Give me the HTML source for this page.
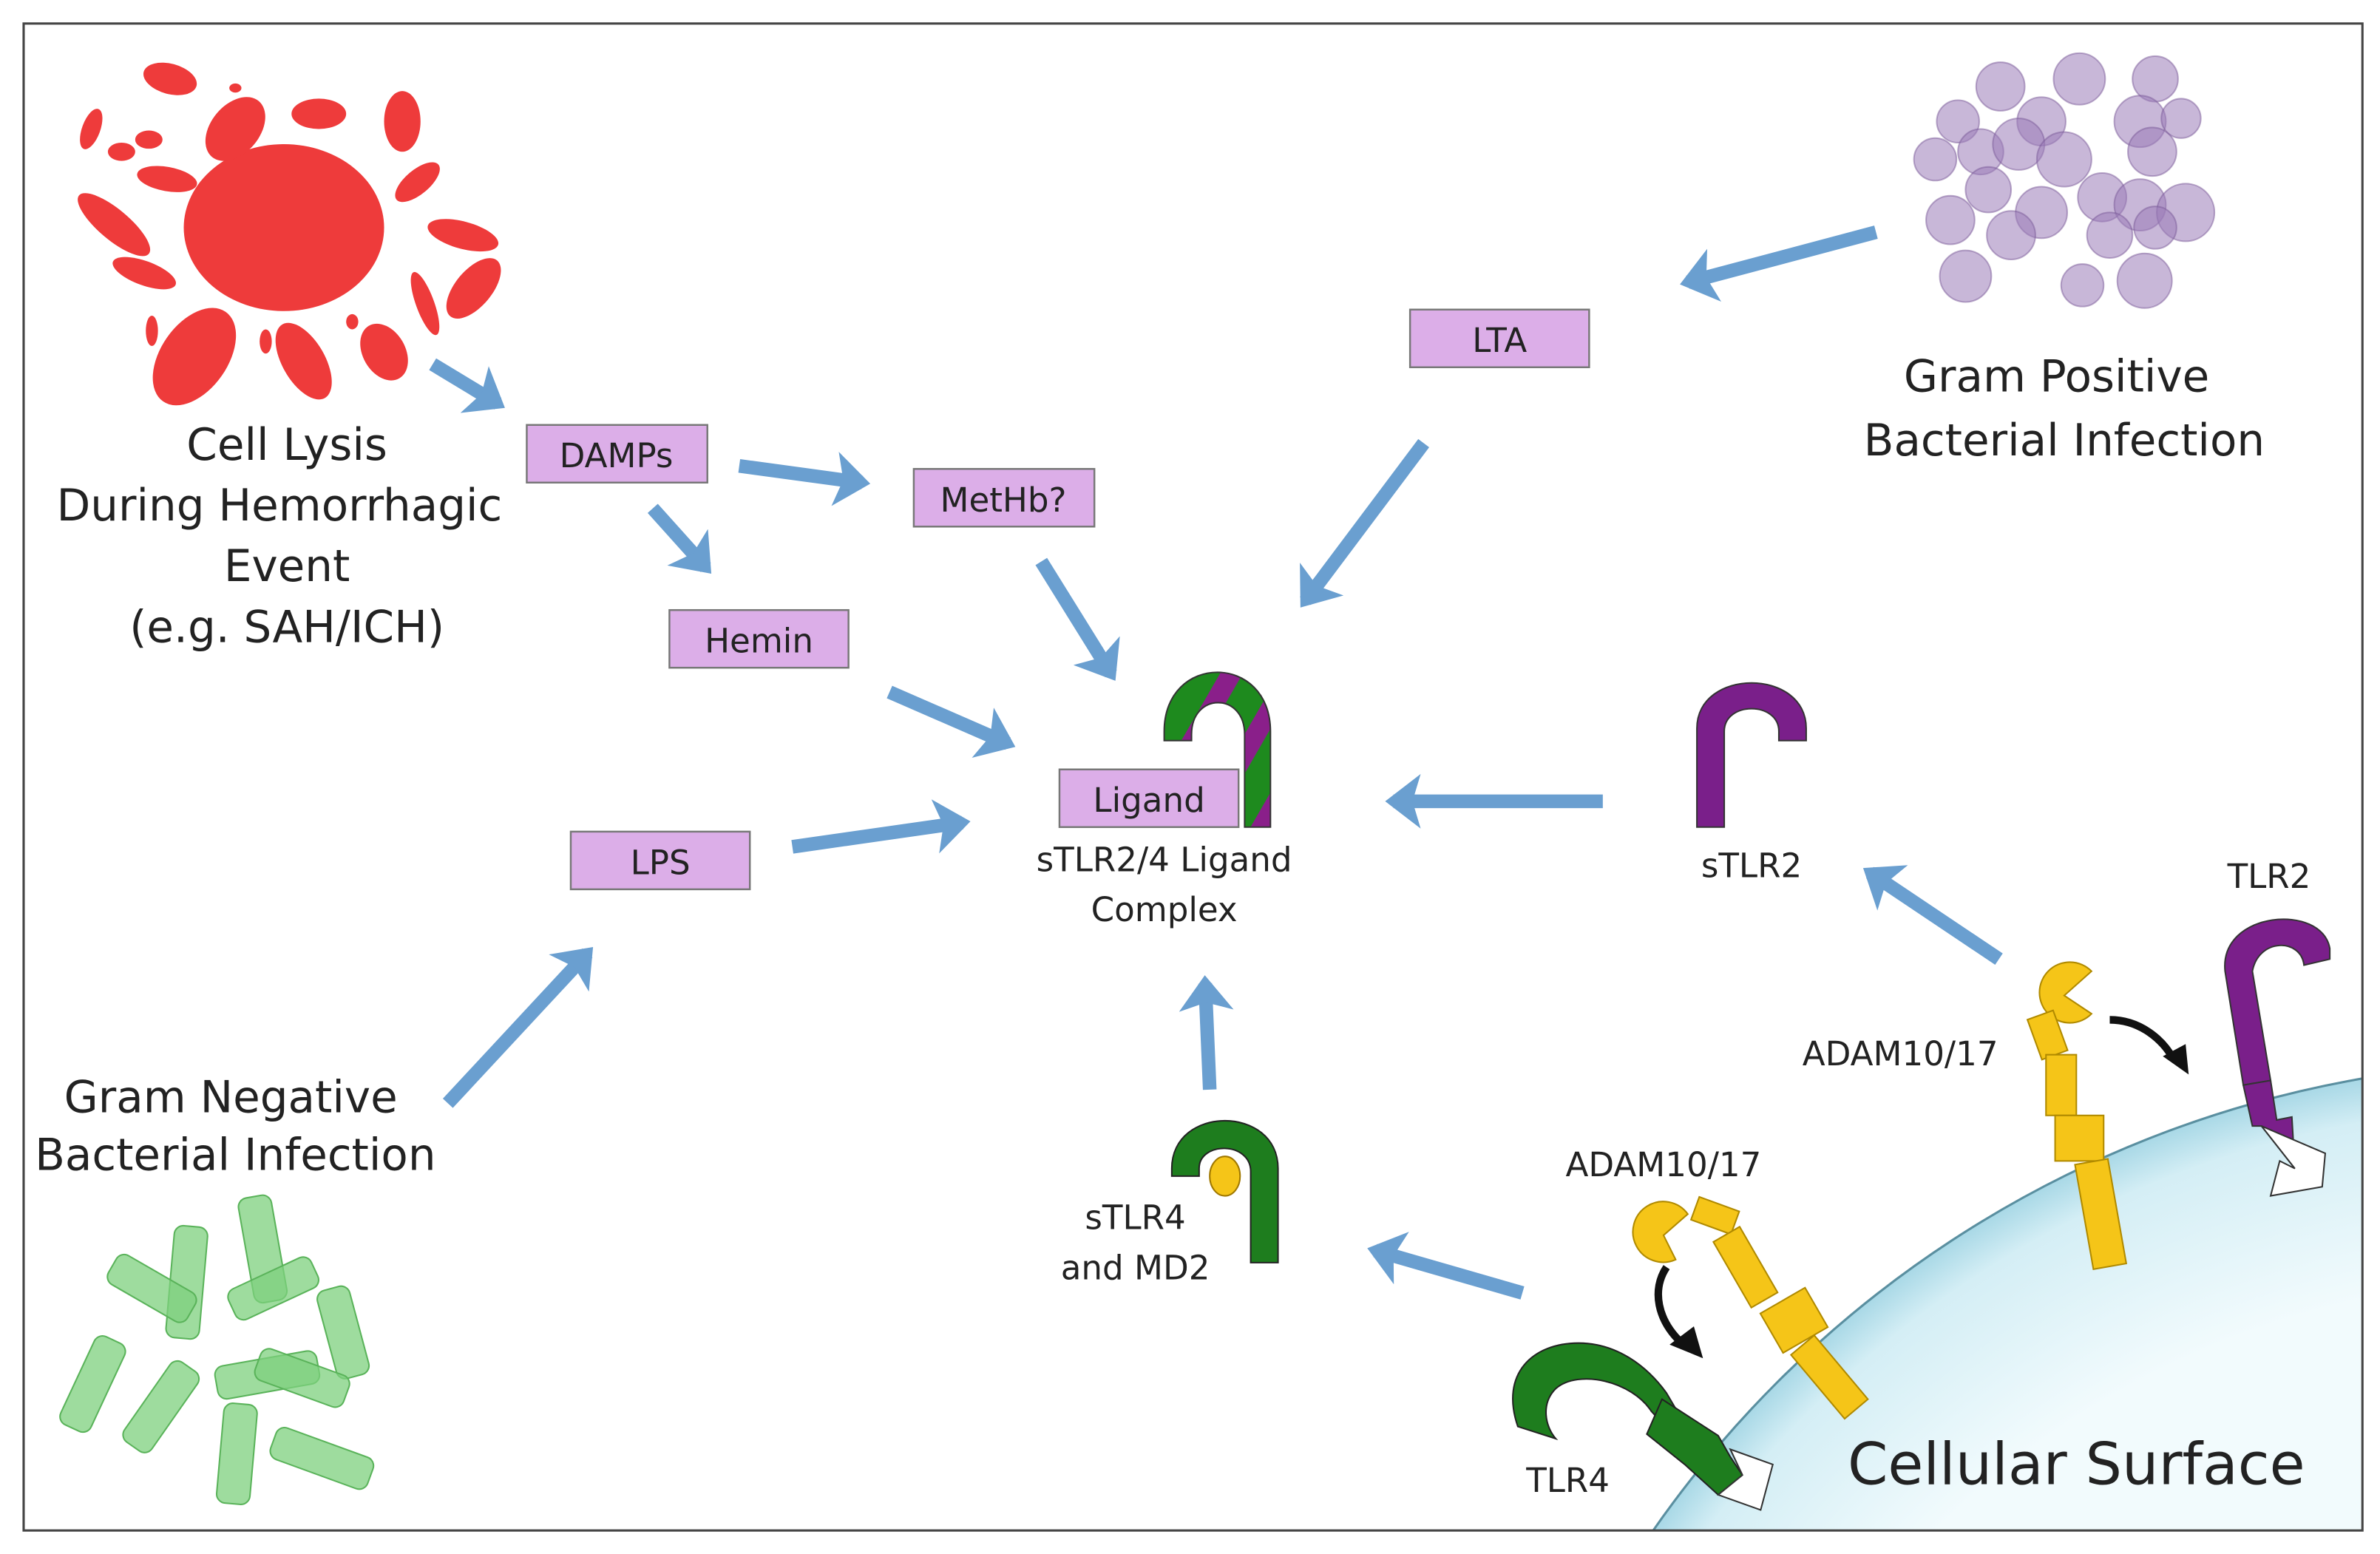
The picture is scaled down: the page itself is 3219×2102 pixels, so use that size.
<!DOCTYPE html>
<html><head><meta charset="utf-8">
<style>
html,body{margin:0;padding:0;background:#fff;width:3219px;height:2102px;overflow:hidden;}
svg{display:block;overflow:hidden;position:absolute;left:0;top:0;}
text{font-family:"DejaVu Sans","Liberation Sans",sans-serif;fill:#222;}
</style></head>
<body>
<svg width="3219" height="2102" viewBox="0 0 1568 1024" xmlns="http://www.w3.org/2000/svg">
<defs>
<marker id="ah" markerWidth="4" markerHeight="4" refX="2" refY="2" orient="auto" markerUnits="strokeWidth">
<path d="M0,0 L2.6,2 L0,4 L0.6,2 Z" fill="#6a9fd0"/>
</marker>
<radialGradient id="cg" cx="1680" cy="1420" r="720" gradientUnits="userSpaceOnUse">
<stop offset="0.8" stop-color="#f2fbfd"/><stop offset="0.96" stop-color="#d4eef5"/><stop offset="1" stop-color="#a8d8e6"/>
</radialGradient>
<pattern id="stripes" patternUnits="userSpaceOnUse" width="34" height="34" patternTransform="rotate(30)">
<rect width="34" height="34" fill="#1e8a1e"/><rect width="13" height="34" fill="#8a1f8a"/>
</pattern>
<clipPath id="frame"><rect x="0" y="0" width="1557" height="1009"/></clipPath>
</defs>
<rect x="0" y="0" width="1568" height="1024" fill="#fff"/>
<g clip-path="url(#frame)">
<circle cx="1680" cy="1420" r="720" fill="url(#cg)" stroke="#5a8fa0" stroke-width="1.5"/>
</g>
<rect x="15.5" y="15.5" width="1541" height="993" fill="none" stroke="#444" stroke-width="1.5"/>

<g fill="#ee3b3b">
<ellipse cx="187" cy="150" rx="66" ry="55"/>
<ellipse cx="112" cy="52" rx="18" ry="10" transform="rotate(15 112 52)"/>
<ellipse cx="155" cy="85" rx="16" ry="24" transform="rotate(40 155 85)"/>
<ellipse cx="210" cy="75" rx="18" ry="10"/>
<ellipse cx="265" cy="80" rx="12" ry="20"/>
<ellipse cx="275" cy="120" rx="8" ry="18" transform="rotate(50 275 120)"/>
<ellipse cx="305" cy="155" rx="24" ry="9" transform="rotate(15 305 155)"/>
<ellipse cx="312" cy="190" rx="12" ry="24" transform="rotate(40 312 190)"/>
<ellipse cx="280" cy="200" rx="6" ry="22" transform="rotate(-20 280 200)"/>
<ellipse cx="253" cy="232" rx="14" ry="20" transform="rotate(-30 253 232)"/>
<ellipse cx="200" cy="238" rx="14" ry="28" transform="rotate(-30 200 238)"/>
<ellipse cx="128" cy="235" rx="22" ry="36" transform="rotate(35 128 235)"/>
<ellipse cx="95" cy="180" rx="22" ry="8" transform="rotate(20 95 180)"/>
<ellipse cx="75" cy="148" rx="30" ry="10" transform="rotate(40 75 148)"/>
<ellipse cx="110" cy="118" rx="20" ry="8" transform="rotate(10 110 118)"/>
<ellipse cx="60" cy="85" rx="6" ry="14" transform="rotate(20 60 85)"/>
<ellipse cx="80" cy="100" rx="9" ry="6"/>
<ellipse cx="98" cy="92" rx="9" ry="6"/>
<ellipse cx="175" cy="225" rx="4" ry="8"/>
<ellipse cx="232" cy="212" rx="4" ry="5"/>
<ellipse cx="155" cy="58" rx="4" ry="3"/>
<ellipse cx="100" cy="218" rx="4" ry="10"/>
</g>

<g fill="#9b7bb8" fill-opacity="0.55" stroke="#7a5a98" stroke-opacity="0.5" stroke-width="1">
<circle cx="1318" cy="57" r="16"/><circle cx="1370" cy="52" r="17"/><circle cx="1420" cy="52" r="15"/>
<circle cx="1290" cy="80" r="14"/><circle cx="1345" cy="80" r="16"/><circle cx="1410" cy="80" r="17"/><circle cx="1437" cy="78" r="13"/>
<circle cx="1275" cy="105" r="14"/><circle cx="1305" cy="100" r="15"/><circle cx="1330" cy="95" r="17"/><circle cx="1360" cy="105" r="18"/><circle cx="1418" cy="100" r="16"/>
<circle cx="1285" cy="145" r="16"/><circle cx="1310" cy="125" r="15"/><circle cx="1345" cy="140" r="17"/><circle cx="1385" cy="130" r="16"/><circle cx="1410" cy="135" r="17"/><circle cx="1440" cy="140" r="19"/>
<circle cx="1325" cy="155" r="16"/><circle cx="1390" cy="155" r="15"/><circle cx="1420" cy="150" r="14"/>
<circle cx="1295" cy="182" r="17"/><circle cx="1372" cy="188" r="14"/><circle cx="1413" cy="185" r="18"/>
</g>

<g fill="#7ed07e" fill-opacity="0.75" stroke="#5ab35a" stroke-width="1">
<rect x="162" y="788" width="22" height="70" rx="6" transform="rotate(-10 173 823)"/>
<rect x="112" y="808" width="22" height="74" rx="6" transform="rotate(5 123 845)"/>
<rect x="70" y="838" width="60" height="22" rx="6" transform="rotate(30 100 849)"/>
<rect x="150" y="838" width="60" height="22" rx="6" transform="rotate(-25 180 849)"/>
<rect x="215" y="848" width="22" height="60" rx="6" transform="rotate(-15 226 878)"/>
<rect x="50" y="880" width="22" height="64" rx="6" transform="rotate(25 61 912)"/>
<rect x="95" y="895" width="22" height="64" rx="6" transform="rotate(35 106 927)"/>
<rect x="142" y="895" width="68" height="22" rx="6" transform="rotate(-10 176 906)"/>
<rect x="168" y="897" width="62" height="22" rx="6" transform="rotate(20 199 908)"/>
<rect x="145" y="925" width="22" height="66" rx="6" transform="rotate(5 156 958)"/>
<rect x="178" y="950" width="68" height="22" rx="6" transform="rotate(20 212 961)"/>
</g>

<g fill="#dcaee8" stroke="#777" stroke-width="1.2">
<rect x="347" y="280" width="119" height="38"/>
<rect x="602" y="309" width="119" height="38"/>
<rect x="441" y="402" width="118" height="38"/>
<rect x="929" y="204" width="118" height="38"/>
<rect x="376" y="548" width="118" height="38"/>
</g>

<g stroke="#6a9fd0" stroke-width="9" fill="none" marker-end="url(#ah)">
<line x1="285" y1="240" x2="328" y2="266"/>
<line x1="487" y1="307" x2="568" y2="318"/>
<line x1="430" y1="335" x2="465" y2="374"/>
<line x1="1236" y1="153" x2="1112" y2="186"/>
<line x1="938" y1="292" x2="860" y2="396"/>
<line x1="686" y1="370" x2="732" y2="444"/>
<line x1="586" y1="456" x2="664" y2="490"/>
<line x1="522" y1="558" x2="634" y2="542"/>
<line x1="1056" y1="528" x2="918" y2="528"/>
<line x1="295" y1="727" x2="387" y2="628"/>
<line x1="797" y1="718" x2="794" y2="648"/>
<line x1="1317" y1="632" x2="1232" y2="575"/>
<line x1="1003" y1="852" x2="906" y2="824"/>
</g>

<path d="M767,488 L767,482 C767,430 837,430 837,482 L837,545 L820,545 L820,484 C820,456 785,456 785,484 L785,488 Z" fill="url(#stripes)" stroke="#333" stroke-width="1"/>
<rect x="698" y="507" width="118" height="38" fill="#dcaee8" stroke="#777" stroke-width="1.2"/>

<path d="M1118,545 L1118,480 C1118,440 1190,440 1190,480 L1190,488 L1172,488 L1172,482 C1172,462 1136,462 1136,482 L1136,545 Z" fill="#7a1f8a" stroke="#333" stroke-width="1"/>

<path d="M772,775 L772,770 C772,728 842,728 842,770 L842,832 L824,832 L824,772 C824,752 790,752 790,770 L790,775 Z" fill="#1e7d1e" stroke="#222" stroke-width="1"/>
<ellipse cx="807" cy="775" rx="10" ry="13" fill="#f5c518" stroke="#a07800" stroke-width="1"/>

<path d="M1478,715 L1466,640 C1462,600 1530,595 1535,625 L1535,632 L1518,636 C1516,618 1488,618 1484,640 L1496,712 Z" fill="#7a1f8a" stroke="#333" stroke-width="1"/>
<path d="M1478,715 L1496,712 L1500,738 L1510,736 L1512,770 L1490,742 L1484,742 Z" fill="#7a1f8a" stroke="#333" stroke-width="1"/>
<path d="M1490,742 L1512,770 L1502,765 L1496,788 L1530,782 L1532,760 Z" fill="#fff" stroke="#333" stroke-width="1"/>

<path d="M1000,940 C988,905 1010,885 1040,885 C1065,885 1085,900 1098,918 L1108,935 L1100,943 L1088,930 C1075,910 1040,902 1025,915 C1015,925 1018,940 1025,948 Z" fill="#1e7d1e" stroke="#222" stroke-width="1"/>
<path d="M1095,922 L1132,946 L1140,960 L1148,972 L1132,985 L1110,965 L1085,945 Z" fill="#1e7d1e" stroke="#222" stroke-width="1"/>
<path d="M1140,955 L1168,965 L1160,995 L1132,985 L1148,972 Z" fill="#fff" stroke="#333" stroke-width="1"/>

<g fill="#f5c518" stroke="#b08a00" stroke-width="1">
<path d="M1378,640 A20,20 0 1,0 1378,668 L1360,656 Z"/>
<rect x="1340" y="668" width="18" height="28" transform="rotate(-20 1349 682)"/>
<rect x="1348" y="695" width="20" height="40"/>
<rect x="1354" y="735" width="32" height="30"/>
<rect x="1373" y="765" width="22" height="70" transform="rotate(-10 1384 800)"/>
</g>
<g fill="#f5c518" stroke="#b08a00" stroke-width="1">
<path d="M1112,800 A20,20 0 1,0 1104,830 L1096,814 Z"/>
<rect x="1116" y="793" width="28" height="16" transform="rotate(20 1130 801)"/>
<rect x="1140" y="810" width="20" height="50" transform="rotate(-30 1150 835)"/>
<rect x="1165" y="855" width="34" height="30" transform="rotate(-30 1182 870)"/>
<rect x="1195" y="880" width="20" height="55" transform="rotate(-40 1205 907)"/>
</g>
<g stroke="#111" stroke-width="5" fill="none">
<path d="M1390,672 C1410,672 1425,685 1432,698"/>
<path d="M1098,835 C1088,850 1092,870 1108,885"/>
</g>
<path d="M1425,696 L1442,708 L1440,688 Z" fill="#111"/>
<path d="M1100,886 L1122,895 L1116,874 Z" fill="#111"/>

<g font-size="29" text-anchor="middle" fill="#333">
<text x="189" y="303">Cell Lysis</text>
<text x="184" y="343">During Hemorrhagic</text>
<text x="189" y="383">Event</text>
<text x="189" y="423">(e.g. SAH/ICH)</text>
<text x="1355" y="258">Gram Positive</text>
<text x="1360" y="300">Bacterial Infection</text>
<text x="152" y="733">Gram Negative</text>
<text x="155" y="771">Bacterial Infection</text>
</g>
<g font-size="22" text-anchor="middle" fill="#111">
<text x="406" y="308">DAMPs</text>
<text x="661" y="337">MetHb?</text>
<text x="500" y="430">Hemin</text>
<text x="988" y="232">LTA</text>
<text x="435" y="576">LPS</text>
<text x="757" y="535">Ligand</text>
<text x="767" y="574">sTLR2/4 Ligand</text>
<text x="767" y="607">Complex</text>
<text x="1154" y="578">sTLR2</text>
<text x="1495" y="585">TLR2</text>
<text x="1252" y="702">ADAM10/17</text>
<text x="1096" y="775">ADAM10/17</text>
<text x="748" y="810">sTLR4</text>
<text x="748" y="843">and MD2</text>
<text x="1033" y="983">TLR4</text>
</g>
<text x="1368" y="978" font-size="38" text-anchor="middle" fill="#111">Cellular Surface</text>
</svg>
</body></html>
